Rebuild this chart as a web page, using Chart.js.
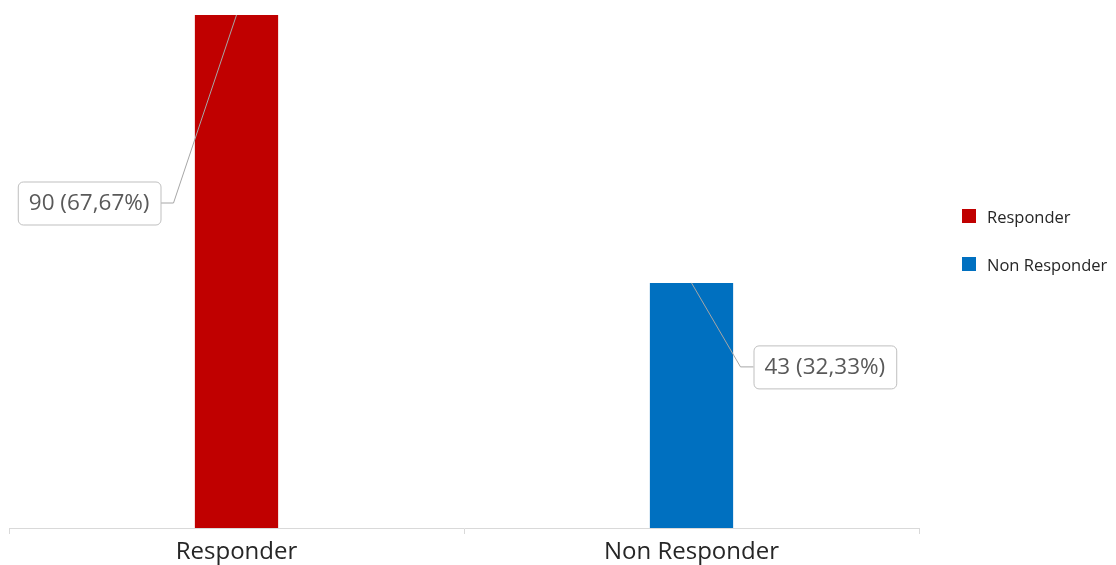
<!DOCTYPE html>
<html>
<head>
<meta charset="utf-8">
<script src="https://cdn.jsdelivr.net/npm/chart.js@4"></script>
<style>
  html, body { margin: 0; padding: 0; background: #ffffff; }
  #wrap { width: 1116px; height: 565px; position: relative; }
</style>
</head>
<body>
<div id="wrap"><canvas id="c" width="1116" height="565"></canvas></div>
<script>
// ---- data ----
const categories = ['Responder', 'Non Responder'];
const values = [90, 43];
const barColors = ['#C00000', '#0070C0'];
const yMin = 0;
const yMax = 90;

// ---- helpers ----
const total = values.reduce((a, b) => a + b, 0);
function labelText(v) {
  return v + ' (' + (v / total * 100).toFixed(2).replace('.', ',') + '%)';
}

// callout labels with leader lines, attached to bar tops
const calloutPlugin = {
  id: 'callouts',
  afterDatasetsDraw(chart, args, opts) {
    const ctx = chart.ctx;
    const meta = chart.getDatasetMeta(0);
    ctx.save();
    ctx.font = opts.font;
    meta.data.forEach((bar, i) => {
      const off = opts.offsets[i];
      const x0 = bar.x, y0 = bar.y;
      const ax = x0 + off.dx, ay = y0 + off.dy;
      const txt = labelText(chart.data.datasets[0].data[i]);
      const tw = ctx.measureText(txt).width;
      const bw = tw + 2 * opts.padX, bh = opts.boxH;
      const side = off.dx < 0 ? -1 : 1;
      const bx = side < 0 ? ax - opts.stub - bw : ax + opts.stub;
      const by = ay - bh / 2;
      // leader line
      ctx.strokeStyle = opts.lineColor;
      ctx.lineWidth = 1;
      ctx.beginPath();
      ctx.moveTo(x0, y0);
      ctx.lineTo(ax, ay);
      ctx.lineTo(side < 0 ? bx + bw : bx, ay);
      ctx.stroke();
      // box
      ctx.fillStyle = '#ffffff';
      ctx.strokeStyle = opts.borderColor;
      ctx.beginPath();
      ctx.roundRect(bx + 0.5, by + 0.5, bw, bh, 5);
      ctx.fill();
      ctx.stroke();
      // text
      ctx.fillStyle = opts.color;
      ctx.textAlign = 'center';
      ctx.textBaseline = 'middle';
      ctx.fillText(txt, bx + bw / 2, ay + 1);
    });
    ctx.restore();
  }
};

// legend on the right, built from the chart's data
const sideLegendPlugin = {
  id: 'sideLegend',
  afterDraw(chart, args, opts) {
    const ctx = chart.ctx;
    const ds = chart.data.datasets[0];
    ctx.save();
    ctx.font = opts.font;
    ctx.textBaseline = 'middle';
    ctx.textAlign = 'left';
    chart.data.labels.forEach((lab, i) => {
      const x = chart.chartArea.right + opts.left;
      const y = opts.top + i * opts.spacing;
      ctx.fillStyle = ds.backgroundColor[i];
      ctx.fillRect(x, y, opts.box, opts.box);
      ctx.fillStyle = opts.color;
      ctx.fillText(lab, x + opts.box + opts.gap, y + opts.box / 2 + 2);
    });
    ctx.restore();
  }
};

new Chart(document.getElementById('c'), {
  type: 'bar',
  data: {
    labels: categories,
    datasets: [{
      label: 'Count',
      data: values,
      backgroundColor: barColors,
      borderWidth: 0,
      barPercentage: 0.183,
      categoryPercentage: 1.0
    }]
  },
  options: {
    responsive: false,
    animation: false,
    devicePixelRatio: 1,
    layout: { padding: { left: 9, top: 15, right: 197, bottom: -5 } },
    scales: {
      x: {
        grid: {
          display: true,
          offset: true,
          drawOnChartArea: false,
          drawTicks: true,
          tickLength: 6,
          color: '#d9d9d9'
        },
        border: { display: true, color: '#d9d9d9', width: 1 },
        ticks: {
          color: '#262626',
          padding: 6,
          font: { family: '"Open Sans", "Noto Sans", sans-serif', size: 24, lineHeight: 1.0 }
        }
      },
      y: {
        display: false,
        min: yMin,
        max: yMax
      }
    },
    plugins: {
      legend: { display: false },
      tooltip: { enabled: false },
      callouts: {
        font: '22.5px "Open Sans", "Noto Sans", sans-serif',
        color: '#595959',
        borderColor: '#bfbfbf',
        lineColor: '#a6a6a6',
        padX: 11,
        boxH: 43,
        stub: 13,
        offsets: [ { dx: -63, dy: 188 }, { dx: 49, dy: 84 } ]
      },
      sideLegend: {
        font: '16.5px "Open Sans", "Noto Sans", sans-serif',
        color: '#262626',
        left: 43,
        top: 209,
        spacing: 48,
        box: 14,
        gap: 11
      }
    }
  },
  plugins: [calloutPlugin, sideLegendPlugin]
});
</script>
</body>
</html>
